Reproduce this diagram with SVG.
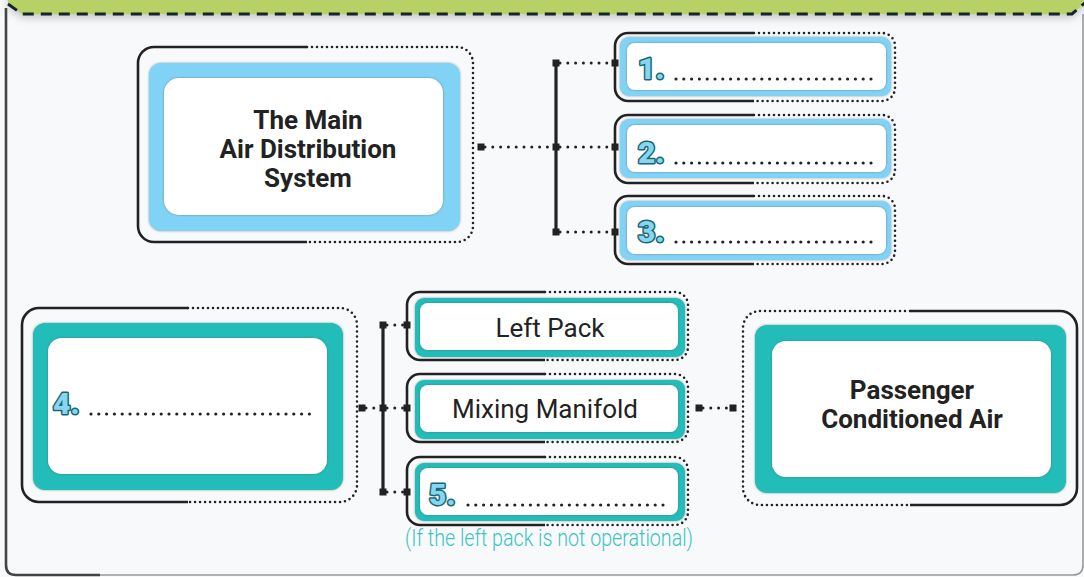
<svg xmlns="http://www.w3.org/2000/svg" width="1084" height="577" viewBox="0 0 1084 577">
<defs>
<filter id="soft" x="-10%" y="-10%" width="120%" height="120%">
<feDropShadow dx="0" dy="0" stdDeviation="1.3" flood-color="#555" flood-opacity="0.6"/>
</filter>
<filter id="bannerShadow" x="-5%" y="-50%" width="110%" height="200%">
<feDropShadow dx="0" dy="4" stdDeviation="4" flood-color="#666" flood-opacity="0.35"/>
</filter>
</defs>
<style>
.solid{fill:none;stroke:#222;stroke-width:2.6}
.dots{fill:none;stroke:#222;stroke-width:2.6;stroke-dasharray:0 5;stroke-linecap:round}
.blue{fill:#80d3f5;filter:url(#soft)}
.teal{fill:#21bcb9;filter:url(#soft)}
.white{fill:#fff;filter:url(#soft)}
.bold{font-family:Roboto,"Liberation Sans",sans-serif;font-weight:700;font-size:26px;fill:#222;text-anchor:middle}
.reg{font-family:Roboto,"Liberation Sans",sans-serif;font-weight:400;font-size:26px;fill:#222;text-anchor:middle}
.num{font-family:Roboto,"Liberation Sans",sans-serif;font-weight:900;font-size:30px;fill:#87d4f3;stroke:#17686c;stroke-width:3;stroke-linejoin:round;paint-order:stroke}
.blank{fill:none;stroke:#222;stroke-width:3.2;stroke-dasharray:0 7.8;stroke-linecap:round}
.conn{fill:none;stroke:#222;stroke-width:3;stroke-dasharray:0 7.8;stroke-linecap:round}
.bar{fill:none;stroke:#222;stroke-width:3.2}
.sq{fill:#222}
.note{font-family:Roboto,"Liberation Sans",sans-serif;font-weight:300;font-size:23px;fill:#3cc4c0}
</style>
<rect x="0" y="0" width="1084" height="577" fill="#f8f9fb"/>
<g id="frame">
<path d="M6,8 V565 Q6,575 16,575 H100" fill="none" stroke="#444" stroke-width="2.6"/>
<path d="M100,575 H1073 Q1083,575 1083,565 V14" fill="none" stroke="#999" stroke-width="1.6"/>
</g>
<g id="banner">
<path d="M8,-20 V4 L22,14 H1072 L1086,2 V-20 Z" fill="#b7d166" filter="url(#bannerShadow)"/>
<path d="M8,4 L22,14 H1072 L1086,2" fill="none" stroke="#15252a" stroke-width="3" stroke-dasharray="11 7"/>
</g>
<g id="node-main">
<path class="solid" d="M307,47 H154 A16,16 0 0 0 138,63 V226 A16,16 0 0 0 154,242 H307"/>
<path class="dots" d="M307,47 H457 A16,16 0 0 1 473,63 V226 A16,16 0 0 1 457,242 H307"/>
<rect class="blue" x="149" y="63" width="311" height="168" rx="12"/>
<rect class="white" x="164" y="78" width="279" height="137" rx="15"/>
<text class="bold" x="308" y="129">The Main</text>
<text class="bold" x="308" y="158">Air Distribution</text>
<text class="bold" x="308" y="187">System</text>
</g>
<g id="node-1">
<path class="solid" d="M754,33 H628 A13,13 0 0 0 615,46 V88 A13,13 0 0 0 628,101 H754"/>
<path class="dots" d="M754,33 H882 A13,13 0 0 1 895,46 V88 A13,13 0 0 1 882,101 H754"/>
<rect class="blue" x="620" y="37" width="271" height="59" rx="9"/>
<rect class="white" x="627" y="43" width="259" height="47" rx="8"/>
<text class="num" x="638" y="79">1.</text>
<path class="blank" d="M676,79 H877"/>
</g>
<g id="node-2">
<path class="solid" d="M754,115 H628 A13,13 0 0 0 615,128 V170 A13,13 0 0 0 628,183 H754"/>
<path class="dots" d="M754,115 H882 A13,13 0 0 1 895,128 V170 A13,13 0 0 1 882,183 H754"/>
<rect class="blue" x="620" y="119" width="271" height="59" rx="9"/>
<rect class="white" x="627" y="125" width="259" height="47" rx="8"/>
<text class="num" x="638" y="163">2.</text>
<path class="blank" d="M676,163 H877"/>
</g>
<g id="node-3">
<path class="solid" d="M754,196 H628 A13,13 0 0 0 615,209 V251 A13,13 0 0 0 628,264 H754"/>
<path class="dots" d="M754,196 H882 A13,13 0 0 1 895,209 V251 A13,13 0 0 1 882,264 H754"/>
<rect class="blue" x="620" y="201" width="271" height="59" rx="9"/>
<rect class="white" x="627" y="207" width="259" height="47" rx="8"/>
<text class="num" x="638" y="242">3.</text>
<path class="blank" d="M676,242 H877"/>
</g>
<g id="node-4">
<path class="solid" d="M188,308 H39 A17,17 0 0 0 22,325 V485 A17,17 0 0 0 39,502 H188"/>
<path class="dots" d="M188,308 H340 A17,17 0 0 1 357,325 V485 A17,17 0 0 1 340,502 H188"/>
<rect class="teal" x="33" y="323" width="310" height="167" rx="12"/>
<rect class="white" x="48" y="338" width="279" height="136" rx="14"/>
<text class="num" x="53" y="414">4.</text>
<path class="blank" d="M91,414 H312"/>
</g>
<g id="node-leftpack">
<path class="solid" d="M545,292 H420 A13,13 0 0 0 407,305 V347 A13,13 0 0 0 420,360 H545"/>
<path class="dots" d="M545,292 H675 A13,13 0 0 1 688,305 V347 A13,13 0 0 1 675,360 H545"/>
<rect class="teal" x="415" y="298" width="270" height="59" rx="9"/>
<rect class="white" x="420" y="303" width="258" height="47" rx="8"/>
<text class="reg" x="550" y="337">Left Pack</text>
</g>
<g id="node-mixing">
<path class="solid" d="M545,374 H420 A13,13 0 0 0 407,387 V429 A13,13 0 0 0 420,442 H545"/>
<path class="dots" d="M545,374 H675 A13,13 0 0 1 688,387 V429 A13,13 0 0 1 675,442 H545"/>
<rect class="teal" x="415" y="380" width="270" height="59" rx="9"/>
<rect class="white" x="420" y="385" width="258" height="47" rx="8"/>
<text class="reg" x="545" y="418">Mixing Manifold</text>
</g>
<g id="node-5">
<path class="solid" d="M545,457 H420 A13,13 0 0 0 407,470 V512 A13,13 0 0 0 420,525 H545"/>
<path class="dots" d="M545,457 H675 A13,13 0 0 1 688,470 V512 A13,13 0 0 1 675,525 H545"/>
<rect class="teal" x="415" y="463" width="270" height="58" rx="9"/>
<rect class="white" x="420" y="468" width="258" height="47" rx="8"/>
<text class="num" x="429" y="505">5.</text>
<path class="blank" d="M468,505 H668"/>
<text class="note" x="405" y="546" textLength="288" lengthAdjust="spacingAndGlyphs">(If the left pack is not operational)</text>
</g>
<g id="node-passenger">
<path class="dots" d="M910,311 H760 A17,17 0 0 0 743,328 V488 A17,17 0 0 0 760,505 H910"/>
<path class="solid" d="M910,311 H1060 A17,17 0 0 1 1077,328 V488 A17,17 0 0 1 1060,505 H910"/>
<rect class="teal" x="755" y="325" width="311" height="168" rx="12"/>
<rect class="white" x="772" y="341" width="279" height="136" rx="14"/>
<text class="bold" x="912" y="399">Passenger</text>
<text class="bold" x="912" y="428">Conditioned Air</text>
</g>
<g id="connectors">
<path class="conn" d="M485,147 H552"/>
<path class="bar" d="M556,63 V232"/>
<path class="conn" d="M560,63 H611 M560,147 H611 M560,232 H611"/>
<rect class="sq" x="477.5" y="143.5" width="7" height="7"/>
<rect class="sq" x="552.5" y="59.5" width="7" height="7"/>
<rect class="sq" x="552.5" y="143.5" width="7" height="7"/>
<rect class="sq" x="552.5" y="228.5" width="7" height="7"/>
<rect class="sq" x="611.5" y="59.5" width="7" height="7"/>
<rect class="sq" x="611.5" y="143.5" width="7" height="7"/>
<rect class="sq" x="611.5" y="228.5" width="7" height="7"/>
<path class="conn" d="M366,408 H379"/>
<path class="bar" d="M383,325 V492"/>
<path class="conn" d="M387,325 H403 M387,408 H403 M387,492 H403"/>
<rect class="sq" x="358.5" y="404.5" width="7" height="7"/>
<rect class="sq" x="379.5" y="321.5" width="7" height="7"/>
<rect class="sq" x="379.5" y="404.5" width="7" height="7"/>
<rect class="sq" x="379.5" y="488.5" width="7" height="7"/>
<rect class="sq" x="403.5" y="321.5" width="7" height="7"/>
<rect class="sq" x="403.5" y="404.5" width="7" height="7"/>
<rect class="sq" x="403.5" y="488.5" width="7" height="7"/>
<path class="conn" d="M703,408 H729"/>
<rect class="sq" x="695.5" y="404.5" width="7" height="7"/>
<rect class="sq" x="729.5" y="404.5" width="7" height="7"/>
</g>
</svg>
